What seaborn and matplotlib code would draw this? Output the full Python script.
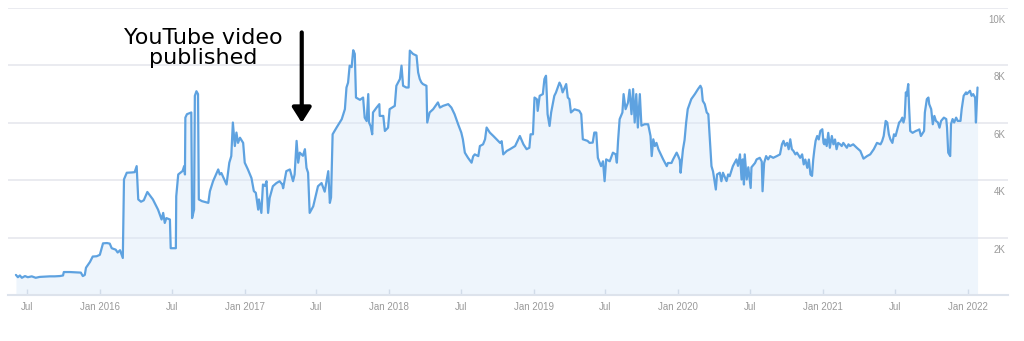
import matplotlib
matplotlib.use("Agg")
import matplotlib.pyplot as plt
import numpy as np
import pandas as pd
import seaborn as sns
from matplotlib.transforms import ScaledTranslation

# ---------------- data ----------------
days_2015 = ["06-03", "06-08", "06-13", "06-18", "06-26", "07-03", "07-13", "07-23",
             "08-02", "08-15", "08-28", "09-09", "09-22", "09-30", "10-02", "10-17",
             "11-01", "11-14", "11-19", "11-24", "11-27", "12-07", "12-14", "12-24"]
views_2015 = [700, 620, 680, 600, 660, 620, 650, 600, 630, 640, 650, 650, 660, 680, 800, 800,
              790, 780, 660, 700, 950, 1150, 1340, 1350]

days_2016 = ["01-01", "01-09", "01-19", "01-26", "01-31", "02-10", "02-15", "02-21", "02-28",
             "03-02", "03-09", "03-22", "03-29", "04-03", "04-07", "04-14", "04-21", "04-30",
             "05-14", "05-27", "06-05", "06-09", "06-13", "06-17", "06-26", "06-28", "07-11",
             "07-12", "07-17", "07-28", "08-01", "08-03", "08-04", "08-08", "08-19", "08-21",
             "08-26", "08-28", "09-01", "09-05", "09-07", "09-15", "10-01", "10-05", "10-13",
             "10-26", "10-30", "11-03", "11-16", "11-23", "11-28", "12-02", "12-07", "12-11",
             "12-15", "12-20", "12-28"]
views_2016 = [1400, 1800, 1810, 1790, 1630, 1580, 1480, 1560, 1290,
              4030, 4260, 4270, 4280, 4490, 3330, 3250, 3300, 3590,
              3330, 2975, 2630, 2860, 2510, 2680, 2630, 1630, 1630,
              3440, 4200, 4320, 4490, 4200, 6180, 6300, 6360, 2680,
              2975, 6940, 7100, 7000, 3330, 3270, 3210, 3615, 3965,
              4375, 4200, 4250, 3850, 4610, 4840, 6010, 5190, 5660,
              5300, 5480, 5300]

days_2017 = ["01-01", "01-09", "01-18", "01-24", "01-29", "02-04", "02-06", "02-12", "02-16",
             "02-21", "02-25", "03-01", "03-05", "03-13", "03-22", "03-30", "04-06", "04-08",
             "04-12", "04-16", "04-25", "05-03", "05-07", "05-12", "05-16", "05-20", "05-28",
             "06-02", "06-06", "06-10", "06-14", "06-23", "07-05", "07-14", "07-22", "07-31",
             "08-04", "08-07", "08-11", "08-21", "09-03", "09-11", "09-15", "09-19", "09-23",
             "09-28", "10-02", "10-06", "10-09", "10-19", "10-27", "10-31", "11-05", "11-09",
             "11-11", "11-15", "11-19", "11-21", "11-30", "12-07", "12-08", "12-17", "12-21",
             "12-29"]
views_2017 = [4610, 4375, 4075, 3620, 3560, 2975, 3330, 2860, 3850,
              3800, 3965, 2860, 3385, 3790, 3900, 3965, 3850, 3720,
              4025, 4315, 4375, 3965, 4200, 5370, 4610, 4960, 4850,
              5080, 4430, 4260, 2860, 3090, 3790, 3900, 3600, 4315,
              3210, 3400, 5600, 5835, 6125, 6475, 7230, 7400, 7990,
              7940, 8530, 8400, 6880, 6800, 6880, 6180, 6060, 7000,
              6010, 5880, 5600, 6360, 6530, 6650, 6240, 6240, 5715,
              5830]

days_2018 = ["01-02", "01-15", "01-19", "01-28", "02-01", "02-05", "02-13", "02-19", "02-22",
             "02-26", "03-02", "03-11", "03-15", "03-19", "03-23", "03-27", "04-05", "04-07",
             "04-13", "04-22", "05-04", "05-09", "05-17", "05-30", "06-07", "06-15", "06-24",
             "07-02", "07-06", "07-11", "07-19", "07-28", "08-01", "08-05", "08-14", "08-18",
             "08-26", "08-31", "09-04", "09-12", "09-21", "09-29", "10-08", "10-12", "10-16",
             "10-25", "11-02", "11-15", "11-23", "11-27", "12-06", "12-14", "12-21", "12-24",
             "12-30"]
views_2018 = [6475, 6590, 7290, 7525, 7990, 7290, 7230, 7230, 8515,
              8460, 8400, 8340, 7755, 7530, 7410, 7350, 7290, 6010,
              6360, 6475, 6710, 6530, 6590, 6650, 6530, 6300, 5950,
              5660, 5425, 4960, 4780, 4610, 4830, 4900, 4840, 5190,
              5250, 5425, 5835, 5660, 5540, 5425, 5300, 5360, 4900,
              5020, 5080, 5190, 5425, 5540, 5250, 5080, 5130, 5600,
              5600]

days_2019 = ["01-03", "01-09", "01-11", "01-16", "01-24", "01-28", "02-01", "02-05", "02-10",
             "02-14", "02-22", "02-26", "03-07", "03-11", "03-15", "03-24", "03-28", "04-01",
             "04-05", "04-14", "04-26", "05-01", "05-05", "05-17", "05-22", "05-30", "06-03",
             "06-08", "06-12", "06-20", "06-25", "06-29", "07-03", "07-12", "07-20", "07-27",
             "07-30", "08-02", "08-06", "08-13", "08-16", "08-21", "08-27", "08-31", "09-05",
             "09-09", "09-13", "09-17", "09-21", "09-26", "09-30", "10-08", "10-17", "10-23",
             "10-26", "10-30", "11-03", "11-07", "11-12", "11-16", "11-24", "12-03", "12-06",
             "12-15", "12-19", "12-28"]
views_2019 = [6880, 6820, 6415, 6940, 7000, 7525, 7640, 6300, 5890,
              6360, 6940, 7050, 7400, 7290, 7060, 7350, 6880, 6825,
              6360, 6470, 6420, 6300, 5425, 5370, 5300, 5310, 5660,
              5660, 4780, 4490, 4660, 3965, 4725, 4660, 4960, 4900,
              4610, 5370, 6125, 6360, 7000, 6475, 6700, 7150, 6300,
              7175, 6010, 7000, 5835, 7000, 5900, 5950, 5950, 5540,
              4840, 5425, 5190, 5300, 5075, 4960, 4725, 4490, 4600,
              4600, 4725, 4960]

days_2020 = ["01-01", "01-05", "01-07", "01-13", "01-17", "01-21", "01-25", "02-03", "02-12",
             "02-20", "02-26", "02-29", "03-03", "03-08", "03-13", "03-17", "03-21", "03-25",
             "03-29", "04-05", "04-08", "04-15", "04-19", "04-23", "05-02", "05-06", "05-10",
             "05-18", "05-27", "05-31", "06-05", "06-09", "06-12", "06-15", "06-17", "06-22",
             "06-26", "07-02", "07-04", "07-13", "07-17", "07-25", "07-30", "08-01", "08-05",
             "08-10", "08-15", "08-20", "08-28", "09-06", "09-14", "09-19", "09-23", "09-27",
             "10-02", "10-06", "10-10", "10-14", "10-18", "10-23", "10-27", "11-04", "11-09",
             "11-13", "11-17", "11-22", "11-26", "11-30", "12-04", "12-07", "12-10", "12-13",
             "12-17", "12-21", "12-25", "12-30"]
views_2020 = [4840, 4700, 4260, 5075, 5400, 6010, 6475, 6825, 7000,
              7175, 7290, 7200, 6765, 6650, 6360, 6300, 5425, 4490,
              4300, 3675, 4200, 4260, 3965, 4260, 3970, 4200, 4140,
              4490, 4725, 4500, 4900, 4025, 4725, 3850, 4900, 4025,
              4450, 3730, 4450, 4600, 4725, 4780, 4650, 3615, 4600,
              4840, 4725, 4840, 4780, 4840, 4900, 5250, 5370, 5200,
              5300, 5080, 5425, 5080, 5020, 4900, 4960, 4780, 4900,
              4550, 4720, 4430, 4720, 4200, 4150, 4720, 5075, 5370,
              5540, 5420, 5715, 5775]

days_2021 = ["01-02", "01-04", "01-06", "01-10", "01-14", "01-18", "01-23", "01-27", "01-31",
             "02-04", "02-08", "02-13", "02-17", "02-21", "03-02", "03-06", "03-10", "03-18",
             "03-27", "04-05", "04-13", "04-22", "04-30", "05-09", "05-13", "05-17", "05-26",
             "05-30", "06-03", "06-08", "06-12", "06-16", "06-20", "06-25", "06-29", "07-03",
             "07-12", "07-16", "07-20", "07-23", "07-26", "07-29", "07-31", "08-04", "08-06",
             "08-09", "08-15", "08-23", "08-28", "09-01", "09-05", "09-13", "09-15", "09-20",
             "09-24", "09-26", "10-01", "10-05", "10-09", "10-13", "10-18", "10-22", "10-26",
             "11-02", "11-08", "11-10", "11-13", "11-18", "11-20", "11-24", "11-28", "12-03",
             "12-07", "12-14", "12-17", "12-22", "12-28", "12-30"]
views_2021 = [5300, 5250, 5420, 5190, 5650, 5130, 5540, 5250, 5420,
              5080, 5300, 5250, 5190, 5300, 5130, 5250, 5190, 5250,
              5130, 5020, 4750, 4840, 4900, 5080, 5190, 5300, 5250,
              5360, 5540, 6065, 6010, 5600, 5420, 5300, 5600, 5540,
              6010, 6065, 6180, 6010, 6180, 7060, 6940, 7350, 6600,
              5715, 5650, 5715, 5740, 5770, 5540, 5715, 6360, 6825,
              6880, 6650, 6475, 5950, 6240, 6065, 6010, 5830, 6065,
              6180, 6130, 5830, 4960, 4840, 5950, 6130, 6010, 6180,
              6065, 6065, 6475, 6940, 7060, 7000]

days_2022 = ["01-03", "01-07", "01-11", "01-15", "01-20", "01-22", "01-26"]
views_2022 = [7060, 7115, 6940, 7000, 6880, 6010, 7230]

xtick_dates = ["2015-07-01", "2016-01-01", "2016-07-01", "2017-01-01", "2017-07-01",
               "2018-01-01", "2018-07-01", "2019-01-01", "2019-07-01", "2020-01-01",
               "2020-07-01", "2021-01-01", "2021-07-01", "2022-01-01"]
xtick_labels = ["Jul", "Jan 2016", "Jul", "Jan 2017", "Jul", "Jan 2018", "Jul",
                "Jan 2019", "Jul", "Jan 2020", "Jul", "Jan 2021", "Jul", "Jan 2022"]
ytick_values = [2000, 4000, 6000, 8000, 10000]
ytick_labels = ["2K", "4K", "6K", "8K", "10K"]

annotation_text = "YouTube video\npublished"
arrow_date = "2017-05-25"
arrow_from = 9150
arrow_to = 6000
text_date = "2016-09-18"
text_value = 8620

# ---------------- build frame ----------------
segments = [(2015, days_2015, views_2015), (2016, days_2016, views_2016),
            (2017, days_2017, views_2017), (2018, days_2018, views_2018),
            (2019, days_2019, views_2019), (2020, days_2020, views_2020),
            (2021, days_2021, views_2021), (2022, days_2022, views_2022)]
all_dates, all_views = [], []
for yr, dd, vv in segments:
    assert len(dd) == len(vv), (yr, len(dd), len(vv))
    all_dates += [f"{yr}-{d}" for d in dd]
    all_views += vv
df = pd.DataFrame({"date": pd.to_datetime(all_dates), "views": all_views})
assert df["date"].is_monotonic_increasing

# ---------------- plot ----------------
sns.set_theme(style="white")
plt.rcParams["font.family"] = ["Liberation Sans", "DejaVu Sans"]

W, H = 1024, 341
fig = plt.figure(figsize=(W / 100, H / 100), dpi=100)
ax = fig.add_axes([8 / W, 1 - 295 / H, 1000 / W, 287 / H])

ax.fill_between(df["date"], df["views"], 0, color="#d6e6f8", alpha=0.4, lw=0, zorder=1)
sns.lineplot(data=df, x="date", y="views", ax=ax, color="#5ea2e0", lw=1.6,
             estimator=None, zorder=3)

ax.set_ylim(0, 10000)
ax.set_xlim(pd.Timestamp("2015-05-14"), pd.Timestamp("2022-04-13"))
ax.set_xlabel("")
ax.set_ylabel("")

ax.set_yticks(ytick_values)
ax.set_yticklabels(ytick_labels)
ax.yaxis.tick_right()
ax.tick_params(axis="y", length=0, pad=-2, labelsize=7, labelcolor="#9a9a9a")
for lab in ax.get_yticklabels():
    lab.set_ha("right")
    lab.set_transform(lab.get_transform() + ScaledTranslation(0, -0.11, fig.dpi_scale_trans))

ax.set_xticks(pd.to_datetime(xtick_dates))
ax.set_xticklabels(xtick_labels)
ax.tick_params(axis="x", direction="in", length=4, width=1, color="#cfd6e0",
               labelsize=7, labelcolor="#9a9a9a", pad=5, bottom=True)

ax.grid(axis="y", color="#e6e7ee", lw=1.2, zorder=0)
ax.grid(axis="x", visible=False)
for s in ["left", "right", "top"]:
    ax.spines[s].set_visible(False)
ax.spines["bottom"].set_color("#dde3ec")
ax.spines["bottom"].set_linewidth(1.5)

ax.annotate("", xy=(pd.Timestamp(arrow_date), arrow_to),
            xytext=(pd.Timestamp(arrow_date), arrow_from),
            arrowprops=dict(arrowstyle="-|>,head_width=0.38,head_length=0.6",
                            lw=3, color="black", mutation_scale=15,
                            shrinkA=0, shrinkB=0), zorder=5)
ax.text(pd.Timestamp(text_date), text_value, annotation_text, ha="center", va="center",
        fontsize=16, family=["DejaVu Sans"], linespacing=1.0, color="black", zorder=5)

fig.savefig("out.png", dpi=100)
